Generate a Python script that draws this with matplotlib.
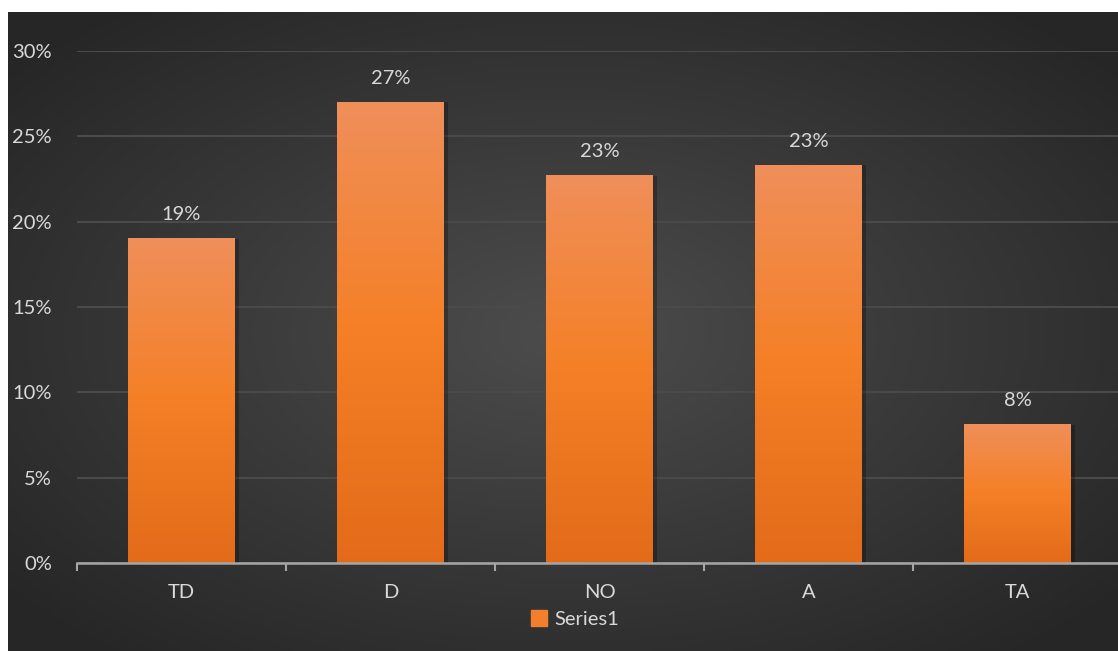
import numpy as np
import matplotlib
matplotlib.use("Agg")
import matplotlib.pyplot as plt
from matplotlib.patches import Patch

categories = ["TD", "D", "NO", "A", "TA"]
values = [0.19, 0.27, 0.227, 0.233, 0.081]
labels = ["19%", "27%", "23%", "23%", "8%"]
series_name = "Series1"

W, H = 1118, 651
fig = plt.figure(figsize=(W / 100, H / 100), dpi=100)
fig.patch.set_facecolor("white")

# radial gradient background
bg = fig.add_axes([8 / W, 0, (W - 8) / W, (H - 12) / H])
yy, xx = np.mgrid[0:200, 0:350]
r = np.sqrt(((xx - 175) / 175) ** 2 + ((yy - 100) / 100) ** 2)
shade = 0.30 - 0.15 * np.clip(r / 1.3, 0, 1)
bg.imshow(np.dstack([shade] * 3), aspect="auto", extent=[0, 1, 0, 1])
bg.axis("off")

txt = "#d9d9d9"
font = "Lato"
fs = 14.5

ax = fig.add_axes([77 / W, 88 / H, 1045 / W, (563 - 51) / H])
ax.set_facecolor("none")
x = np.arange(len(categories))

# bars with vertical gradient
grad = np.array([[0.89, 0.42, 0.10], [0.96, 0.50, 0.15], [0.94, 0.56, 0.35]])
ramp = np.linspace(0, 1, 100)[:, None]
cols = np.where(ramp < 0.5,
                grad[0] + (grad[1] - grad[0]) * (ramp / 0.5),
                grad[1] + (grad[2] - grad[1]) * ((ramp - 0.5) / 0.5))
img = cols[:, None, :]
bw = 0.51
for xi, v in zip(x, values):
    ax.bar(xi + 0.012, v, width=bw + 0.02, color="black", alpha=0.25, zorder=2)
    ax.imshow(img, extent=[xi - bw / 2, xi + bw / 2, 0, v], aspect="auto",
              origin="lower", zorder=3)
for xi, v, lab in zip(x, values, labels):
    ax.annotate(lab, (xi, v), xytext=(0, 11), textcoords="offset points",
                ha="center", va="bottom", color=txt, fontsize=fs, family=font)

ax.set_xlim(-0.5, len(categories) - 0.5)
ax.set_ylim(0, 0.30)

ax.set_yticks(np.arange(0, 0.31, 0.05))
ax.set_yticklabels([f"{int(round(t * 100))}%" for t in np.arange(0, 0.31, 0.05)],
                   color=txt, fontsize=fs, family=font)
ax.tick_params(axis="y", length=0, pad=18)
ax.yaxis.grid(True, color="#4a4a4a", lw=1.5)
ax.set_axisbelow(True)

ax.set_xticks(x)
ax.set_xticklabels(categories, color=txt, fontsize=fs, family=font)
ax.tick_params(axis="x", length=0, pad=15)
ax.set_xticks(np.arange(-0.5, len(categories), 1), minor=True)
ax.tick_params(axis="x", which="minor", length=6, width=1.5, color="#a6a6a6")

for s in ["top", "right", "left"]:
    ax.spines[s].set_visible(False)
ax.spines["bottom"].set_color("#a6a6a6")
ax.spines["bottom"].set_linewidth(1.8)
ax.spines["bottom"].set_zorder(4)

fig.legend(handles=[Patch(color="#f37f2c", label=series_name)],
           loc="center", bbox_to_anchor=(575 / W, 1 - 619 / H), frameon=False,
           handlelength=0.8, handleheight=0.8, handletextpad=0.4,
           labelcolor=txt, prop={"family": font, "size": fs})

fig.savefig("out.png", dpi=100, facecolor=fig.get_facecolor())
